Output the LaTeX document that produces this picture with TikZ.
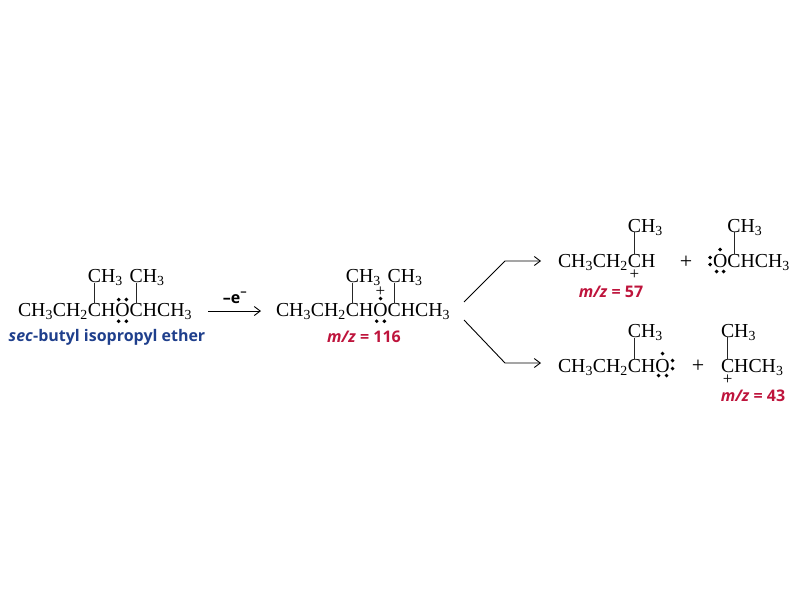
\documentclass[tikz,border=0pt]{standalone}
\usepackage{fontspec}
\setmainfont{Liberation Serif}
\newfontfamily\labelfont{Open Sans}
\usetikzlibrary{arrows.meta,positioning}
\definecolor{etherblue}{RGB}{31,63,140}
\definecolor{massred}{RGB}{190,20,60}
\tikzset{
    atom/.style={
           inner sep=0pt,
           outer sep=0pt,
           font=\fontsize{19.8}{21}\selectfont,
           },
}
\tikzset{
    elec/.style={
           circle,
           fill=black,
           inner sep=1.4pt,
           },
}
\tikzset{
    charge/.style={
           inner sep=0pt,
           font=\fontsize{17}{17}\selectfont,
           },
}
\tikzset{
    massval/.style={
           inner sep=0pt,
           text=massred,
           font=\labelfont\bfseries\fontsize{16}{16}\selectfont,
           },
}
\tikzset{
    bond/.style={
           draw=black!85,
           line width=0.8pt,
           },
}
\tikzset{
    react/.style={
           draw=black,
           line width=0.9pt,
           -{Straight Barb[length=6pt,width=9pt]},
           },
}

\begin{document}
\begin{tikzpicture}[x=1pt,y=-1pt]
\useasboundingbox (0,0) rectangle (800,600);
\node[atom,anchor=base west](a1) at (18,316){CH\textsubscript{3}CH\textsubscript{2}};
\node[atom,base right=0pt of a1](a2){C};
\node[atom,base right=0pt of a2](a3){H};
\node[atom,base right=0pt of a3](a4){O};
\node[atom,base right=0pt of a4](a5){C};
\node[atom,base right=0pt of a5](a6){HCH\textsubscript{3}};
\node[atom,above=20pt of a2](a7){C};
\node[atom,base right=0pt of a7](a8){H\textsubscript{3}};
\node[atom,above=20pt of a5](a9){C};
\node[atom,base right=0pt of a9](a10){H\textsubscript{3}};
\draw[bond](a7.south)--(a2.north);
\draw[bond](a9.south)--(a5.north);
\node[elec] at ([shift={(-3.8,-10)}]a4.center){};
\node[elec] at ([shift={(3.8,-10)}]a4.center){};
\node[elec] at ([shift={(-3.8,11.7)}]a4.center){};
\node[elec] at ([shift={(3.8,11.7)}]a4.center){};
\node[massval,text=etherblue,anchor=base](name) at (107,341){\textit{sec}-butyl isopropyl ether};

\coordinate(r1) at (208,311);
\coordinate(r2) at (261,311);
\draw[react](r1)--(r2);
\node[massval,text=black,font=\labelfont\bfseries\fontsize{16}{16}\selectfont,anchor=base](loss) at (235,303){–e\textsuperscript{−}};

\node[atom,anchor=base west](b1) at (276,316){CH\textsubscript{3}CH\textsubscript{2}};
\node[atom,base right=0pt of b1](b2){C};
\node[atom,base right=0pt of b2](b3){H};
\node[atom,base right=0pt of b3](b4){O};
\node[atom,base right=0pt of b4](b5){C};
\node[atom,base right=0pt of b5](b6){HCH\textsubscript{3}};
\node[atom,above=20pt of b2](b7){C};
\node[atom,base right=0pt of b7](b8){H\textsubscript{3}};
\node[atom,above=20pt of b5](b9){C};
\node[atom,base right=0pt of b9](b10){H\textsubscript{3}};
\draw[bond](b7.south)--(b2.north);
\draw[bond](b9.south)--(b5.north);
\node[charge] at ([shift={(0,-18)}]b4.center){+};
\node[elec] at ([shift={(0,-11)}]b4.center){};
\node[elec] at ([shift={(-3.8,11.7)}]b4.center){};
\node[elec] at ([shift={(3.8,11.7)}]b4.center){};
\node[massval,anchor=base](mass1) at (364,342){\textit{m/z} = 116};

\coordinate(s1) at (464,302);
\coordinate(s2) at (505,261);
\coordinate(s3) at (541,261);
\draw[react](s1)--(s2)--(s3);
\coordinate(t1) at (464,320);
\coordinate(t2) at (505,363);
\coordinate(t3) at (541,363);
\draw[react](t1)--(t2)--(t3);

\node[atom,anchor=base west](c1) at (558,267){CH\textsubscript{3}CH\textsubscript{2}};
\node[atom,base right=0pt of c1](c2){C};
\node[atom,base right=0pt of c2](c3){H};
\node[atom,above=21.5pt of c2](c4){C};
\node[atom,base right=0pt of c4](c5){H\textsubscript{3}};
\draw[bond](c4.south)--(c2.north);
\node[charge] at ([shift={(0,14)}]c2.center){+};
\node[massval,anchor=base](mass2) at (611,297){\textit{m/z} = 57};
\node[atom,font=\fontsize{22}{22}\selectfont](plus1) at (686,262){+};

\node[atom,anchor=base west](d1) at (713,267){O};
\node[atom,base right=0pt of d1](d2){C};
\node[atom,base right=0pt of d2](d3){HCH\textsubscript{3}};
\node[atom,above=21.5pt of d2](d4){C};
\node[atom,base right=0pt of d4](d5){H\textsubscript{3}};
\draw[bond](d4.south)--(d2.north);
\node[elec] at ([shift={(0,-11)}]d1.center){};
\node[elec] at ([shift={(-3.5,11)}]d1.center){};
\node[elec] at ([shift={(3.5,11)}]d1.center){};
\node[elec] at ([shift={(-10,-3)}]d1.center){};
\node[elec] at ([shift={(-10,4)}]d1.center){};

\node[atom,anchor=base west](e1) at (558,372){CH\textsubscript{3}CH\textsubscript{2}};
\node[atom,base right=0pt of e1](e2){C};
\node[atom,base right=0pt of e2](e3){H};
\node[atom,base right=0pt of e3](e4){O};
\node[atom,above=21pt of e2](e5){C};
\node[atom,base right=0pt of e5](e6){H\textsubscript{3}};
\draw[bond](e5.south)--(e2.north);
\node[elec] at ([shift={(0,-12)}]e4.center){};
\node[elec] at ([shift={(-4,10)}]e4.center){};
\node[elec] at ([shift={(4,10)}]e4.center){};
\node[elec] at ([shift={(10,-5)}]e4.center){};
\node[elec] at ([shift={(10,3)}]e4.center){};
\node[atom,font=\fontsize{22}{22}\selectfont](plus2) at (698,366){+};

\node[atom,anchor=base west](f1) at (721,372){C};
\node[atom,base right=0pt of f1](f2){HCH\textsubscript{3}};
\node[atom,above=21.5pt of f1](f3){C};
\node[atom,base right=0pt of f3](f4){H\textsubscript{3}};
\draw[bond](f3.south)--(f1.north);
\node[charge] at ([shift={(0,14)}]f1.center){+};
\node[massval,anchor=base](mass3) at (753,401){\textit{m/z} = 43};
\end{tikzpicture}
\end{document}
